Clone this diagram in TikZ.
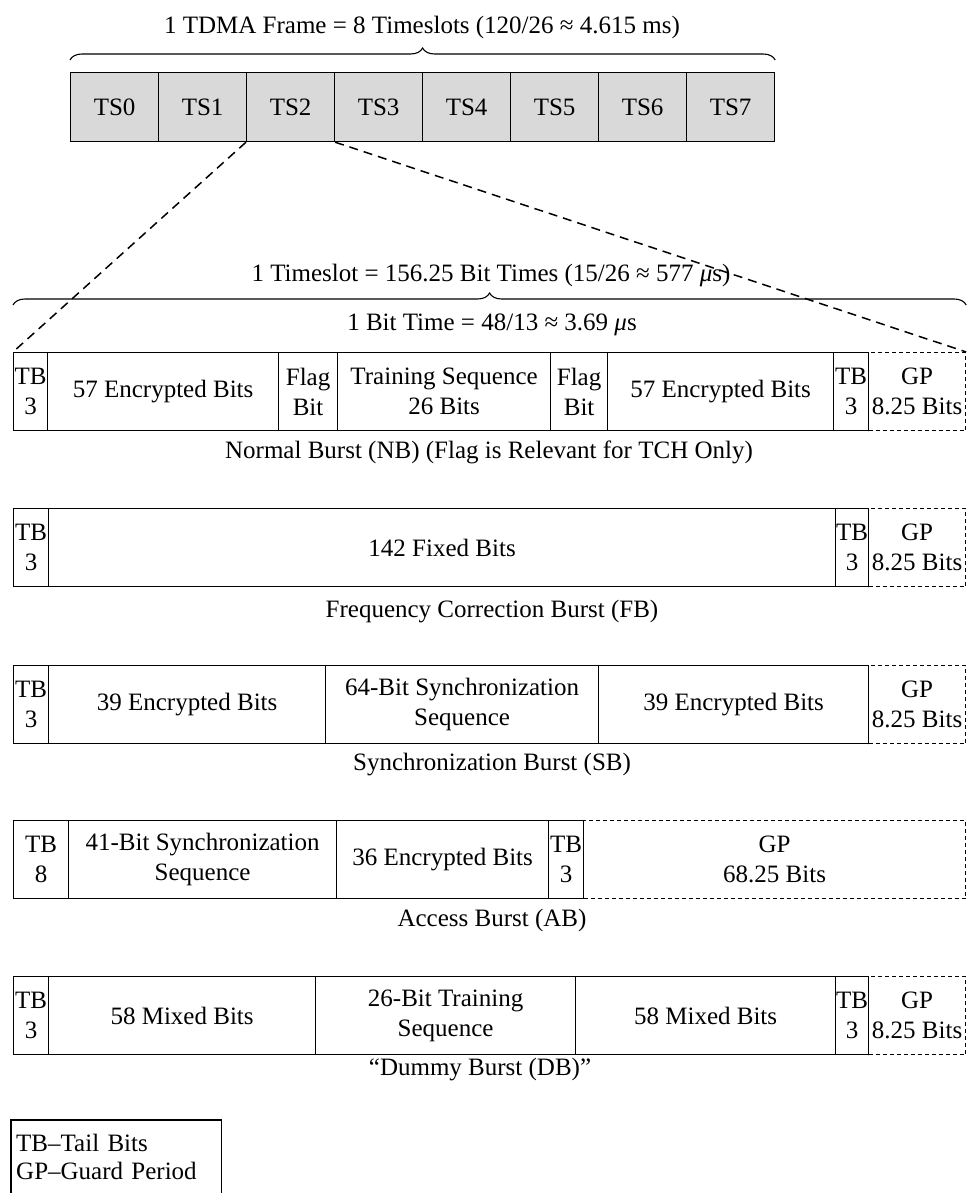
\documentclass[tikz,border=0pt]{standalone}
\usepackage{fontspec}
\setmainfont{Liberation Serif}
\usetikzlibrary{decorations.pathreplacing}
\newcommand{\fs}{\fontsize{25}{30}\selectfont}

\begin{document}
\begin{tikzpicture}[x=1pt,y=-1pt,font=\fs]
\tikzset{fld/.style={draw,line width=1.2pt,inner sep=0pt,minimum height=78,anchor=north west,align=center},
  gp/.style={fld,dash pattern=on 4pt off 3pt},
  ts/.style={draw,line width=1.2pt,fill=black!15,inner sep=0pt,minimum width=88,minimum height=69,anchor=north west},
  curly/.style={decorate,decoration={brace,amplitude=12pt},line width=1.1pt},
  zoomline/.style={line width=1.5pt,dash pattern=on 9pt off 6pt}}
\useasboundingbox (0,0) rectangle (968,1193);

% TDMA frame
\node[ts] (ts0) at (70,72) {TS0};
\node[ts] (ts1) at (158,72) {TS1};
\node[ts] (ts2) at (246,72) {TS2};
\node[ts] (ts3) at (334,72) {TS3};
\node[ts] (ts4) at (422,72) {TS4};
\node[ts] (ts5) at (510,72) {TS5};
\node[ts] (ts6) at (598,72) {TS6};
\node[ts] (ts7) at (686,72) {TS7};
\draw[curly] ([yshift=12pt]ts0.north west) -- ([yshift=12pt]ts7.north east);
\node (frametitle) at (422,27) {1 TDMA Frame = 8 Timeslots (120/26 ≈ 4.615 ms)};

% normal burst
\node[gp,minimum width=97] (nbgp) at (868,352) {GP\\8.25 Bits};
\node[fld,minimum width=34] (nbtb1) at (13,352) {TB\\3};
\node[fld,minimum width=231] (nbenc1) at (47,352) {57 Encrypted Bits};
\node[fld,minimum width=59] (nbflag1) at (278,352) {Flag\\Bit};
\node[fld,minimum width=213] (nbtrain) at (337,352) {Training Sequence\\26 Bits};
\node[fld,minimum width=57] (nbflag2) at (550,352) {Flag\\Bit};
\node[fld,minimum width=226] (nbenc2) at (607,352) {57 Encrypted Bits};
\node[fld,minimum width=35] (nbtb2) at (833,352) {TB\\3};
\node (nbcap) at (489,452) {Normal Burst (NB) (Flag is Relevant for TCH Only)};

\draw[zoomline] (ts2.south west) -- (nbtb1.north west);
\draw[zoomline] (ts2.south east) -- (nbgp.north east);
\draw[curly] ([yshift=47pt]nbtb1.north west) -- ([yshift=47pt]nbgp.north east);
\node (slottitle) at (491,275) {1 Timeslot = 156.25 Bit Times (15/26 ≈ 577 {\itshape μ}s)};
\node (bittime) at (492,325) {1 Bit Time = 48/13 ≈ 3.69 {\itshape μ}s};

% frequency correction burst
\node[gp,minimum width=97] (fbgp) at (868,508) {GP\\8.25 Bits};
\node[fld,minimum width=35] (fbtb1) at (13,508) {TB\\3};
\node[fld,minimum width=787] (fbfix) at (48,508) {142 Fixed Bits};
\node[fld,minimum width=33] (fbtb2) at (835,508) {TB\\3};
\node (fbcap) at (492,612) {Frequency Correction Burst (FB)};

% synchronization burst
\node[gp,minimum width=97] (sbgp) at (868,665) {GP\\8.25 Bits};
\node[fld,minimum width=35] (sbtb1) at (13,665) {TB\\3};
\node[fld,minimum width=277] (sbenc1) at (48,665) {39 Encrypted Bits};
\node[fld,minimum width=273] (sbsync) at (325,665) {64-Bit Synchronization\\Sequence};
\node[fld,minimum width=270] (sbenc2) at (598,665) {39 Encrypted Bits};
\node (sbcap) at (492,765) {Synchronization Burst (SB)};

% access burst
\node[gp,minimum width=382] (abgp) at (583,820) {GP\\68.25 Bits};
\node[fld,minimum width=55] (abtb1) at (13,820) {TB\\8};
\node[fld,minimum width=268] (absync) at (68,820) {41-Bit Synchronization\\Sequence};
\node[fld,minimum width=212] (abenc) at (336,820) {36 Encrypted Bits};
\node[fld,minimum width=35] (abtb2) at (548,820) {TB\\3};
\node (abcap) at (492,920) {Access Burst (AB)};

% dummy burst
\node[gp,minimum width=97] (dbgp) at (868,976) {GP\\8.25 Bits};
\node[fld,minimum width=35] (dbtb1) at (13,976) {TB\\3};
\node[fld,minimum width=267] (dbmix1) at (48,976) {58 Mixed Bits};
\node[fld,minimum width=260] (dbtrain) at (315,976) {26-Bit Training\\Sequence};
\node[fld,minimum width=260] (dbmix2) at (575,976) {58 Mixed Bits};
\node[fld,minimum width=33] (dbtb2) at (835,976) {TB\\3};
\node (dbcap) at (480,1070) {“Dummy Burst (DB)”};

% key
\node[anchor=north west,minimum height=73,text width=200,inner xsep=5pt,align=left] (legend) at (11,1120) {TB–Tail Bits\\[-2pt]GP–Guard Period};
\draw[line width=1.2pt] (legend.south west) -- (legend.north west) -- (legend.north east) -- (legend.south east);
\end{tikzpicture}
\end{document}
